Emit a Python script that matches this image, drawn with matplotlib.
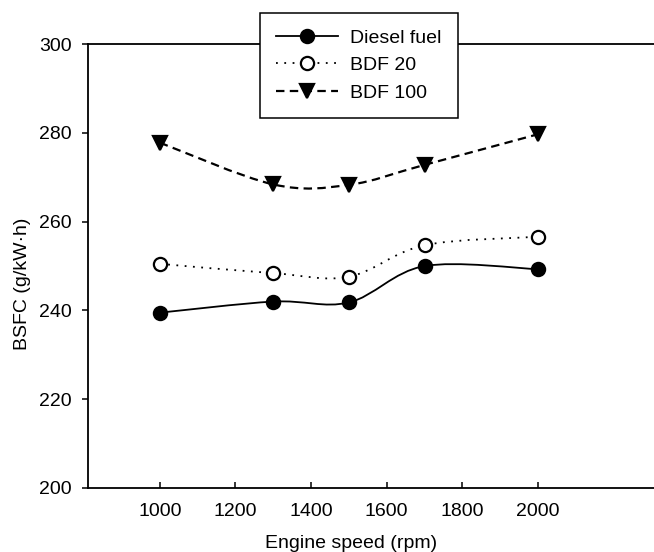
import numpy as np
import matplotlib
matplotlib.use("Agg")
import matplotlib.pyplot as plt
from matplotlib.path import Path
from matplotlib.patches import PathPatch
from matplotlib.lines import Line2D

plt.rcParams['font.family'] = ['Liberation Sans', 'DejaVu Sans']

speed = [1000, 1300, 1500, 1700, 2000]
diesel = [239.5, 242.0, 241.8, 250.0, 249.3]
bdf20 = [250.5, 248.4, 247.6, 254.7, 256.6]
bdf100 = [277.8, 268.4, 268.3, 272.8, 279.7]

labels = ["Diesel fuel", "BDF 20", "BDF 100"]
series = [diesel, bdf20, bdf100]
styles = [
    dict(ls="-", lw=1.3, marker="o", mfc="black"),
    dict(ls=(0, (1, 3.6)), lw=1.3, marker="o", mfc="white"),
    dict(ls=(0, (3.8, 2.4)), lw=1.6, marker="v", mfc="black"),
]


def smooth_path(x, y):
    # Catmull-Rom through the points, as cubic bezier segments
    pts = np.column_stack([x, y]).astype(float)
    verts = [pts[0]]
    codes = [Path.MOVETO]
    n = len(pts)
    for i in range(n - 1):
        p0 = pts[max(i - 1, 0)]
        p1 = pts[i]
        p2 = pts[i + 1]
        p3 = pts[min(i + 2, n - 1)]
        c1 = p1 + (p2 - p0) / 6
        c2 = p2 - (p3 - p1) / 6
        verts += [c1, c2, p2]
        codes += [Path.CURVE4] * 3
    return Path(verts, codes)


fig = plt.figure(figsize=(6.54, 5.52), dpi=100)
ax = fig.add_axes([0.1346, 0.116, 0.8654, 0.804])

handles = []
for vals, lab, st in zip(series, labels, styles):
    patch = PathPatch(smooth_path(speed, vals), fill=False, edgecolor="black",
                      lw=st["lw"], linestyle=st["ls"], transform=ax.transData)
    ax.add_patch(patch)
    ax.plot(speed, vals, ls="none", marker=st["marker"], ms=9.5,
            mfc=st["mfc"], mec="black", mew=1.6, zorder=3)
    handles.append(Line2D([], [], color="black", ls=st["ls"], lw=st["lw"],
                          marker=st["marker"], ms=9.5, mfc=st["mfc"],
                          mec="black", mew=1.6))

ax.set_xlim(810, 2307)
ax.set_ylim(200, 300)
ax.set_xticks(range(1000, 2001, 200))
ax.set_yticks(range(200, 301, 20))
ax.spines["right"].set_visible(False)
for s in ["left", "bottom", "top"]:
    ax.spines[s].set_linewidth(1.3)
ax.tick_params(axis="x", direction="in", length=4, width=1.1, labelsize=14, pad=11)
ax.tick_params(axis="y", direction="out", length=4, width=1.1, labelsize=14, pad=8)
ax.set_xlabel("Engine speed (rpm)", fontsize=14)
ax.set_ylabel("BSFC (g/kW\u00b7h)", fontsize=14)
ax.xaxis.set_label_coords(0.465, -0.105)
ax.yaxis.set_label_coords(-0.1, 0.46)

leg = fig.legend(handles, labels, loc="upper left",
                 bbox_to_anchor=(0.397, 0.977), borderaxespad=0,
                 fontsize=14, numpoints=1,
                 handlelength=3.2, handletextpad=0.6, labelspacing=0.5,
                 borderpad=0.85, fancybox=False, framealpha=1,
                 edgecolor="black")
leg.get_frame().set_linewidth(1.1)
leg.set_zorder(5)

fig.savefig("out.png", dpi=100)
